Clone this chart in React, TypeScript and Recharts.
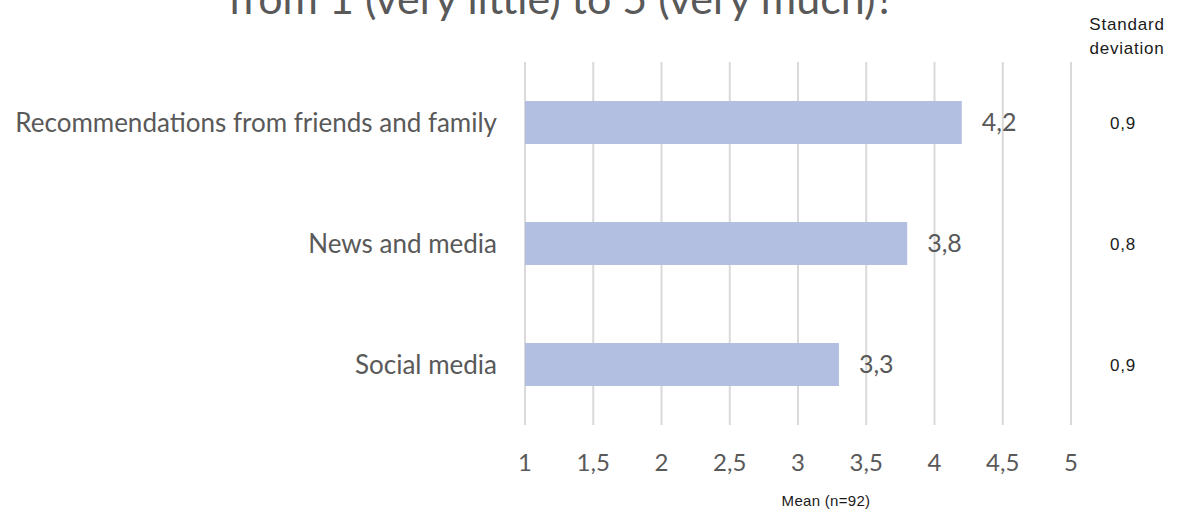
import { BarChart, Bar, XAxis, YAxis, CartesianGrid, LabelList } from 'recharts';

const categories = ['Recommendations from friends and family', 'News and media', 'Social media'];
const means = [4.2, 3.8, 3.3];
const stdDevs = [0.9, 0.8, 0.9];
const xTicks = [1, 1.5, 2, 2.5, 3, 3.5, 4, 4.5, 5];

const GREY = '#595959';
const FONT = 'Lato, "Noto Sans", sans-serif';
const SIDE_FONT = '"Liberation Sans", Arial, sans-serif';

const comma = (v: number | string) => String(v).replace('.', ',');

export default function App() {
  const chartData = categories.map((name, i) => ({ name, mean: means[i], sd: stdDevs[i] }));
  const sdByName = new Map(chartData.map(d => [d.name, d.sd]));

  return (
    <div style={{ position: 'fixed', top: 0, left: 0, width: 1179, height: 509, background: '#fff', overflow: 'hidden' }}>
      {/* title, cut off at the top of the picture like the original */}
      <div
        style={{
          position: 'absolute',
          top: -28,
          left: 0,
          width: 1123,
          textAlign: 'center',
          fontFamily: FONT,
          fontSize: 43,
          lineHeight: 1.2,
          color: GREY,
          whiteSpace: 'nowrap',
        }}
      >
        from 1 (very little) to 5 (very much)?
      </div>

      <div
        style={{
          position: 'absolute',
          top: 13,
          left: 1077,
          width: 100,
          textAlign: 'center',
          fontFamily: SIDE_FONT,
          fontSize: 17,
          letterSpacing: 0.8,
          lineHeight: '24px',
          color: '#1a1a1a',
        }}
      >
        Standard
        <br />
        deviation
      </div>

      <BarChart
        layout="vertical"
        width={1179}
        height={509}
        data={chartData}
        margin={{ top: 62, right: 0, bottom: 0, left: 0 }}
        barSize={43}
      >
        <CartesianGrid horizontal={false} stroke="#d9d9d9" strokeWidth={2} />
        <XAxis
          type="number"
          domain={[1, 5]}
          ticks={xTicks}
          tickFormatter={comma}
          axisLine={false}
          tickLine={false}
          tickSize={0}
          tickMargin={29}
          height={84}
          interval={0}
          tick={{ fontSize: 24, fill: GREY, fontFamily: FONT }}
        />
        <YAxis
          yAxisId="left"
          type="category"
          dataKey="name"
          width={525}
          axisLine={false}
          tickLine={false}
          tickSize={0}
          tickMargin={28}
          tick={{ fontSize: 26, fill: GREY, fontFamily: FONT }}
        />
        <YAxis
          yAxisId="right"
          orientation="right"
          type="category"
          dataKey="name"
          width={108}
          axisLine={false}
          tickLine={false}
          tickSize={0}
          tickMargin={39}
          tickFormatter={(name: string) => comma(sdByName.get(name) ?? '')}
          tick={{ fontSize: 17, fill: '#1a1a1a', fontFamily: SIDE_FONT, letterSpacing: 0.8 }}
        />
        <Bar yAxisId="left" dataKey="mean" fill="#b3bfe0" isAnimationActive={false}>
          <LabelList
            dataKey="mean"
            position="right"
            offset={20}
            formatter={(v: any) => comma(v)}
            style={{ fontSize: 25, fill: GREY, fontFamily: FONT }}
          />
        </Bar>
      </BarChart>

      <div
        style={{
          position: 'absolute',
          top: 492,
          left: 726,
          width: 200,
          textAlign: 'center',
          fontFamily: SIDE_FONT,
          fontSize: 15,
          letterSpacing: 0.3,
          lineHeight: '18px',
          color: '#1a1a1a',
        }}
      >
        Mean (n=92)
      </div>
    </div>
  );
}
